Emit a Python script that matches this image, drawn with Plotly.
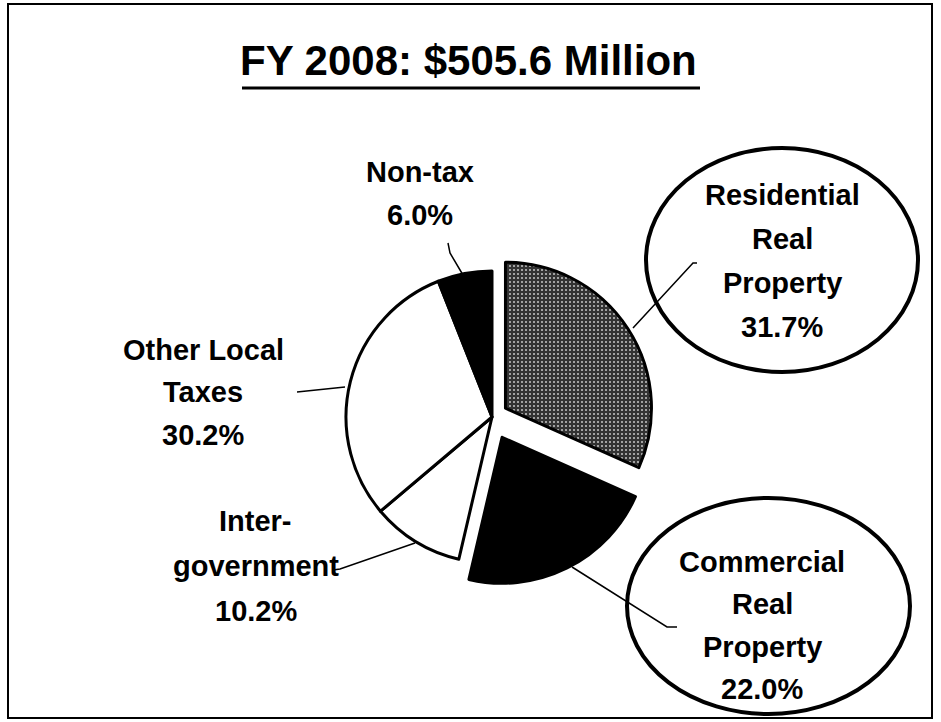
import plotly.graph_objects as go

# ---- data ----
categories = ["Residential Real Property", "Commercial Real Property",
              "Inter-government", "Other Local Taxes", "Non-tax"]
shares = [31.7, 22.0, 10.2, 30.2, 6.0]
label_lines = [["Residential", "Real", "Property"],
               ["Commercial", "Real", "Property"],
               ["Inter-", "government"],
               ["Other Local", "Taxes"],
               ["Non-tax"]]
title_text = "FY 2008: $505.6 Million"

# ---- styling / layout ----
W, H = 941, 722
FONT = "Liberation Sans, Arial, sans-serif"
slice_colors = ["#333333", "black", "white", "white", "black"]
pulls = [0.11, 0.155, 0, 0, 0]

def px(x):
    return x / W

def py(y):
    return 1 - y / H

# pie geometry in pixels
cx, cy, r = 492, 417, 146
half = r * (1 + max(pulls))
domain_x = [px(cx - half), px(cx + half)]
domain_y = [py(cy + half), py(cy - half)]

fig = go.Figure(go.Pie(
    labels=categories,
    values=shares,
    sort=False,
    direction="clockwise",
    rotation=0,
    pull=pulls,
    textinfo="none",
    hoverinfo="skip",
    showlegend=False,
    domain=dict(x=domain_x, y=domain_y),
    marker=dict(
        colors=slice_colors,
        line=dict(color="black", width=3),
        pattern=dict(shape=[".", "", "", "", ""],
                     bgcolor=slice_colors,
                     fgcolor=["#c8c8c8", "black", "white", "white", "black"],
                     fillmode="replace",
                     size=4, solidity=0.2),
    ),
))

# label positions (pixels): centre x, y of each line
label_pos = [
    (782, [195, 239, 283, 327]),
    (762, [562, 604, 647, 689]),
    (256, [521, 566, 611]),
    (203, [350, 392, 435]),
    (420, [172, 215]),
]

annotations = []
for lines, share, (lx, ys) in zip(label_lines, shares, label_pos):
    texts = lines + [f"{share:.1f}%"]
    for t, yy in zip(texts, ys):
        annotations.append(dict(
            x=px(lx), y=py(yy), xref="paper", yref="paper",
            text=f"<b>{t}</b>", showarrow=False,
            xanchor="center", yanchor="middle",
            font=dict(family=FONT, size=29, color="black"),
        ))

annotations.append(dict(
    x=px(468), y=py(61), xref="paper", yref="paper",
    text=f"<b>{title_text}</b>", showarrow=False,
    xanchor="center", yanchor="middle",
    font=dict(family=FONT, size=42, color="black"),
))

def path(points):
    return "M " + " L ".join(f"{px(x)},{py(y)}" for x, y in points)

leaders = [
    [(633, 328), (693, 263), (697, 263)],
    [(572, 567), (667, 627), (677, 627)],
    [(415, 543), (340, 569), (333, 570)],
    [(345, 387), (297, 392)],
    [(463, 275), (450, 253), (448, 243)],
]

shapes = [
    dict(type="rect", xref="paper", yref="paper",
         x0=px(8), x1=px(932), y0=py(718), y1=py(4),
         line=dict(color="black", width=2)),
    dict(type="line", xref="paper", yref="paper",
         x0=px(242), x1=px(700), y0=py(88), y1=py(88),
         line=dict(color="black", width=3)),
    dict(type="circle", xref="paper", yref="paper",
         x0=px(646), x1=px(918), y0=py(372), y1=py(148),
         line=dict(color="black", width=4)),
    dict(type="circle", xref="paper", yref="paper",
         x0=px(627), x1=px(910), y0=py(714), y1=py(498),
         line=dict(color="black", width=4)),
]
for pts in leaders:
    shapes.append(dict(type="path", xref="paper", yref="paper",
                       path=path(pts), line=dict(color="black", width=1.5)))

fig.update_layout(
    width=W, height=H, autosize=False,
    margin=dict(l=0, r=0, t=0, b=0),
    paper_bgcolor="white", plot_bgcolor="white",
    annotations=annotations,
    shapes=shapes,
)

fig.write_html("out.html",
               config={"displayModeBar": False, "staticPlot": True},
               post_script="document.body.style.margin='0';"
                           "document.body.style.overflow='hidden';")
